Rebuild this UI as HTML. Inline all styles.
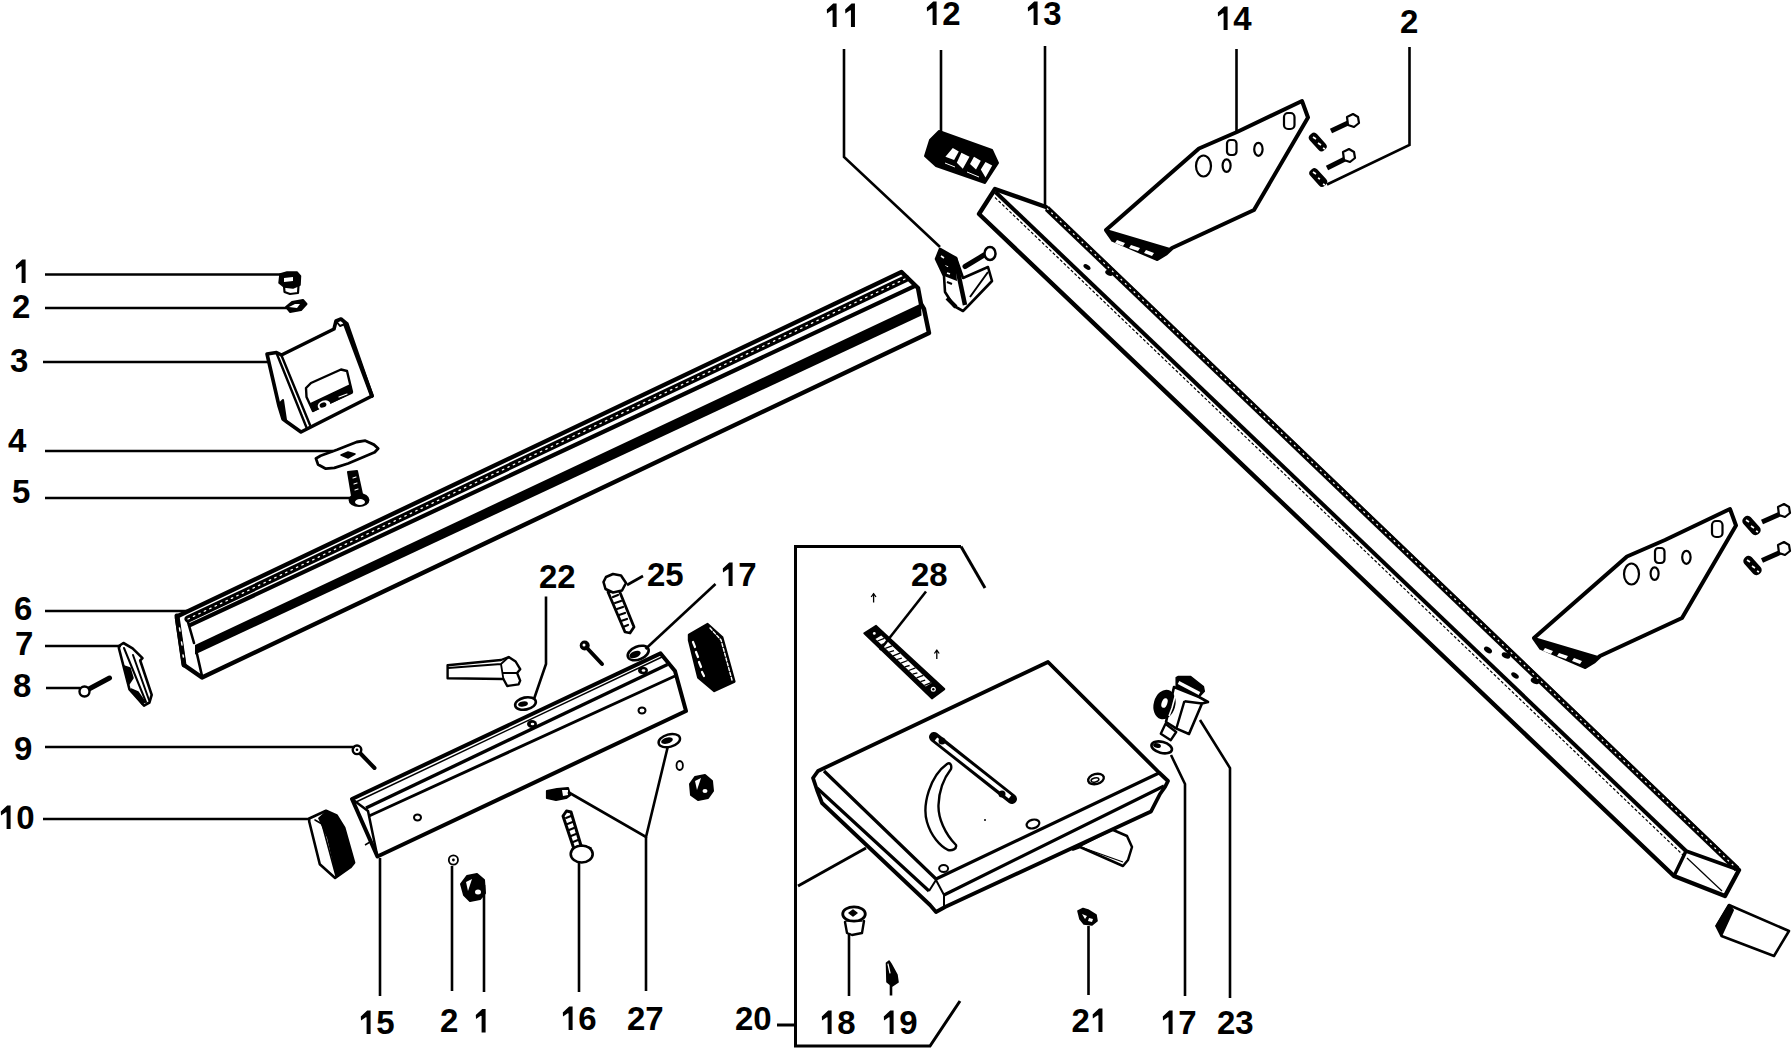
<!DOCTYPE html>
<html><head><meta charset="utf-8"><style>
html,body{margin:0;padding:0;background:#fff;width:1792px;height:1048px;overflow:hidden}
svg{display:block}
text{font-family:"Liberation Sans",sans-serif;font-weight:bold;font-size:33px;fill:#000}
</style></head><body>
<svg width="1792" height="1048" viewBox="0 0 1792 1048">
<rect width="1792" height="1048" fill="#fff"/>
<!-- RAIL 6 -->
<g id="rail" stroke="#000" fill="none" stroke-linejoin="round" stroke-linecap="round">
<path d="M178,616 L901.5,272 L918,288 L921,304 L924,309 L929,333 L202,677.5 L184,665 L177,618 Z" fill="#fff" stroke-width="4.4"/>
<line x1="188" y1="619" x2="906" y2="278.5" stroke-width="7"/>
<line x1="188" y1="619" x2="906" y2="278.5" stroke-width="1.3" stroke="#fff" stroke-dasharray="1.5 4.5"/>
<line x1="190" y1="625.2" x2="914" y2="286.4" stroke-width="4.2"/>
<path d="M195,645 L921,303.5 L921.5,315.5 L195,654.5 Z" fill="#000" stroke="none"/>
<path d="M188,622 L194,643 M197,654 L202,676" stroke-width="2.6"/>
<path d="M177,616 L184,665" stroke-width="5"/>
<path d="M179.5,628 l0.5,3 M181.5,642 l0.5,3 M183,655 l0.4,2" stroke="#fff" stroke-width="1.5"/>
</g>
<!-- TUBE 13 -->
<g id="tube" stroke="#000" fill="none" stroke-linejoin="round">
<path d="M979,214 L995,189 L1046,207 L1739,870 L1725,896 L1674,876 Z" fill="#fff" stroke-width="4.4"/>
<line x1="1047" y1="208.5" x2="1737" y2="869" stroke-width="6"/>
<line x1="1047" y1="208.5" x2="1737" y2="869" stroke-width="1.2" stroke="#fff" stroke-dasharray="2 4"/>
<line x1="995.5" y1="192" x2="1686" y2="851" stroke-width="4"/>
<line x1="995" y1="197.5" x2="1683" y2="855" stroke-width="1.2" stroke-dasharray="3 2"/>
<path d="M1674,876 L1686,851 L1739,870" stroke-width="3.5"/>
<path d="M1687,858 L1722,891" stroke-width="1.2"/>
<g fill="#000" stroke="none">
<ellipse cx="1488" cy="650" rx="4.5" ry="2.6" transform="rotate(35 1488 650)"/>
<ellipse cx="1515" cy="675.5" rx="4.3" ry="2.3" transform="rotate(35 1515 675.5)"/>
<ellipse cx="1506" cy="655.5" rx="4.5" ry="2.8" transform="rotate(25 1506 655.5)"/>
<ellipse cx="1535" cy="681" rx="4.5" ry="2.8" transform="rotate(25 1535 681)"/>
<ellipse cx="1087" cy="267" rx="4" ry="2.2" transform="rotate(35 1087 267)"/>
<ellipse cx="1109" cy="273" rx="4" ry="2.5" transform="rotate(25 1109 273)"/>
</g>
</g>
<!-- PART 14 upper + lower -->
<defs>
<g id="p14" stroke="#000" stroke-linejoin="round">
<path d="M1106,230 L1199,148.5 L1237,132 L1302,101 L1308,117.5 L1254,210 L1172,248 L1166,253.5 L1157,259 L1113,240 Z" fill="#fff" stroke-width="4"/>
<path d="M1106,230 L1170,249 L1157,259 L1113,240 Z" fill="#000" stroke-width="2"/>
<path d="M1117,240 l8,3 l-2,3 l-8,-3 Z M1131,245 l9,3 l-2,3 l-9,-3 Z M1146,250 l8,3 l-2,3 l-8,-3 Z" fill="#fff" stroke="none"/>
<g fill="none" stroke-width="2.2">
<ellipse cx="1203.5" cy="166" rx="7.5" ry="10.5"/>
<ellipse cx="1226.6" cy="165.6" rx="4" ry="6.3"/>
<rect x="1227" y="140" width="9.5" height="15" rx="3.5"/>
<ellipse cx="1258.4" cy="149.3" rx="4.2" ry="6.5"/>
<rect x="1284" y="113" width="10.5" height="16" rx="4"/>
</g>
</g>
</defs>
<use href="#p14"/>
<use href="#p14" transform="translate(428,408)"/>
<!-- bolts part 2 upper -->
<g stroke="#000" stroke-linejoin="round">
<line x1="1331" y1="131" x2="1348" y2="123" stroke-width="5"/>
<path d="M1347,117 l6,-3 l5,3 l1,6 l-5,4 l-6,-2 Z" fill="#fff" stroke-width="2.2"/>
<line x1="1327" y1="168" x2="1345" y2="159" stroke-width="5"/>
<path d="M1343,152 l6,-3 l5,3 l1,6 l-5,4 l-6,-2 Z" fill="#fff" stroke-width="2.2"/>
<rect x="1313" y="131.5" width="9.5" height="21" rx="4" transform="rotate(-42 1317.8 142)" fill="#000" stroke="none"/>
<path d="M1313,137 l3,2 M1318,143 l3,2 M1323,148 l2,1" stroke="#fff" stroke-width="1.6"/>
<rect x="1313.5" y="167" width="9.5" height="21" rx="4" transform="rotate(-42 1318.2 177.5)" fill="#000" stroke="none"/>
<path d="M1313,172 l3,2 M1318,178 l2,1 M1323,184 l2,1" stroke="#fff" stroke-width="1.6"/>
<!-- lower bolts -->
<line x1="1762" y1="522" x2="1780" y2="514" stroke-width="5"/>
<path d="M1778,507 l6,-3 l5,3 l1,6 l-5,4 l-6,-2 Z" fill="#fff" stroke-width="2.2"/>
<line x1="1762" y1="560.5" x2="1780" y2="552.5" stroke-width="5"/>
<path d="M1778,545 l6,-3 l5,3 l1,6 l-5,4 l-6,-2 Z" fill="#fff" stroke-width="2.2"/>
<rect x="1746.5" y="514.5" width="10" height="22" rx="4.5" transform="rotate(-42 1751.5 525.5)" fill="#000" stroke="none"/>
<path d="M1746,520 l3,2 M1751,526 l3,2 M1756,531 l2,1" stroke="#fff" stroke-width="1.6"/>
<rect x="1747.5" y="554.5" width="10" height="22" rx="4.5" transform="rotate(-42 1752.5 565.5)" fill="#000" stroke="none"/>
<path d="M1747,560 l3,2 M1752,566 l3,2 M1757,571 l2,1" stroke="#fff" stroke-width="1.6"/>
</g>
<!-- PART 12 block -->
<g stroke="#000" stroke-linejoin="round">
<path d="M939,131 L992,150 L998,163 L985,183 L936,166 L925,156 L930,140 Z" fill="#000" stroke-width="2"/>
<path d="M945.4,156.7 L952.8,148 L958.8,151.4 L954.1,160.1 Z M956.8,162.8 L961.4,152.7 L969.5,156.7 L962.8,168.8 Z M970,164 L974,156.7 L980.8,160.7 L976,169.4 Z M980.8,169.4 L985.5,162 L992.2,165.4 L985.5,177.4 Z" fill="#fff" stroke="none"/>
<path d="M945,163 l10,4 M967,172 l12,5" stroke="#fff" stroke-width="1"/>
</g>
<!-- PART 11 bracket -->
<g stroke="#000" stroke-linejoin="round" fill="#fff">
<path d="M940,249 L936,259 L944,276 L945,292 L954,306 L963,311 L968,306 L992,281 L988,267 L963,278 L956,258 Z" stroke-width="2.6"/>
<path d="M940,249 L936,259 L944,276 L957,281 L955,258 Z" fill="#000" stroke="none"/>
<path d="M941,256 l3,2 M945,266 l3,1 M947,273 l3,1" stroke="#fff" stroke-width="1.6" fill="none"/>
<path d="M955,258 L965,305" stroke-width="4.5" fill="none"/>
<path d="M946,256 L952,262 M944,266 l5,3 M947,282 l5,2 M970,297 L988,272" stroke-width="2" fill="none"/>
<path d="M947,298 L956,307" stroke-width="4" fill="none"/>
<line x1="965" y1="266.5" x2="984" y2="255" stroke-width="5" stroke-linecap="round"/>
<ellipse cx="990" cy="253.5" rx="5.5" ry="6.5" stroke-width="2.5"/>
</g>
<!-- CHANNEL 15 -->
<g stroke="#000" stroke-linejoin="round" fill="none">
<path d="M352,799 L660.6,653.4 L675,671 L686,711 L377.4,856.5 Z" fill="#fff" stroke-width="4"/>
<path d="M356,802 L662,657" stroke-width="1.5"/>
<path d="M366,808 L667.5,664.5" stroke-width="3.4"/>
<path d="M369,816 L675,676" stroke-width="3"/>
<path d="M352,799 L368,811 L377.4,856.5" stroke-width="2.5"/>
<path d="M365,845 l5,-3 l4,4" stroke-width="1.5"/>
<ellipse cx="532" cy="724" rx="5" ry="4" fill="#000" stroke="none"/>
<ellipse cx="532.5" cy="724" rx="1.8" ry="1.2" fill="#fff" stroke="none"/>
<ellipse cx="643" cy="670.5" rx="5" ry="3.8" fill="#000" stroke="none"/>
<ellipse cx="643.5" cy="670.5" rx="1.8" ry="1.2" fill="#fff" stroke="none"/>
<ellipse cx="642" cy="710.5" rx="3.5" ry="3" stroke-width="2"/>
<ellipse cx="417.5" cy="817.5" rx="3.5" ry="3" stroke-width="2"/>
</g>
<!-- TABLE 20 -->
<g stroke="#000" stroke-linejoin="round" fill="none">
<path d="M1073,849.5 L1112,829.5 L1127,836 L1132,847 L1128,860 L1123,866 L1080,847 Z" fill="#fff" stroke-width="2.5"/>
<path d="M1081,847 L1123,862" stroke-width="1.2"/>
<path d="M818,771 L1048,662 L1159,772.5 L1168,781 L1165,787 L1160,794 L1151,811.5 L945,907 L936,912 L930,905 L822,803 L817,790 L813,778 Z" fill="#fff" stroke-width="3.8"/>
<path d="M824,771 L936,879 L1159,773" stroke-width="3.2"/>
<path d="M817,788 L929,891 M944,895 L1164,786" stroke-width="3.2"/>
<path d="M929,891 L936,880 L944,895 L944,907" stroke-width="2"/>
<path d="M947,764 C930,776 922,805 927,822 C931,836 940,846 948,850 C952,851 957,849 956,845 C945,834 938,818 938.5,805 C939,790 944,778 951,769 C952,765 950,762 947,764 Z" fill="#fff" stroke-width="2.4"/>
<path d="M934,737 L1012,799" stroke="#000" stroke-width="10" stroke-linecap="round"/>
<path d="M936,739 L1010,797" stroke="#fff" stroke-width="4"/>
<circle cx="942" cy="741" r="3.5" fill="#000" stroke="none"/>
<circle cx="1002" cy="794" r="3.5" fill="#000" stroke="none"/>
<ellipse cx="1096" cy="779" rx="8" ry="5" transform="rotate(-15 1096 779)" stroke-width="2.4"/>
<ellipse cx="1095" cy="780" rx="4" ry="2" transform="rotate(-15 1095 780)" stroke-width="1.5"/>
<ellipse cx="1033" cy="824" rx="6.5" ry="4.3" transform="rotate(-15 1033 824)" stroke-width="2.2"/>
<ellipse cx="943.6" cy="868.5" rx="4.5" ry="3.5" stroke-width="2"/>
<circle cx="985" cy="820" r="1" fill="#000" stroke="none"/>
</g>
<!-- STRIP 28 -->
<g stroke="#000" stroke-linejoin="round">
<path d="M864.3,633.3 L876.1,625.9 L944.3,689.1 L931.9,698.4 Z" fill="#000" stroke-width="2"/>
<path d="M875.5,639.1 L881.2,635.5 L931.5,683.0 L925.7,686.6 Z" fill="#fff" stroke="none"/>
<path d="M877.5,641.0 L884.3,638.4 M881.4,644.7 L886.2,643.3 M885.3,648.4 L892.1,645.8 M889.2,652.1 L894.0,650.7 M893.1,655.8 L899.9,653.1 M897.0,659.5 L901.8,658.1 M900.9,663.2 L907.7,660.5 M904.8,666.8 L909.6,665.5 M908.7,670.5 L915.5,667.9 M912.6,674.2 L917.4,672.9 M916.5,677.9 L923.3,675.3 M920.5,681.6 L925.2,680.2 M924.4,685.3 L931.1,682.6" stroke-width="1.3" fill="none"/>
<circle cx="933.3" cy="689.3" r="2.5" fill="#fff" stroke="none"/>
<circle cx="933.3" cy="689.3" r="1.2" fill="#000" stroke="none"/>
<circle cx="874.3" cy="633.4" r="1.4" fill="#fff" stroke="none"/>
<path d="M873.6,602.5 L873.6,594.5 M871.2,597 L873.6,593.5 L876,597" stroke-width="1.3" fill="none"/>
<path d="M936.8,659 L936.8,651 M934.4,653.5 L936.8,650 L939.2,653.5" stroke-width="1.3" fill="none"/>
</g>
<!-- PART 23 + washer 17 -->
<g stroke="#000" stroke-linejoin="round">
<path d="M1160.8,733.8 L1165.4,723.9 L1176.2,732 L1170.8,740.2 Z" fill="#fff" stroke-width="2.4"/>
<path d="M1174,687 L1199,697 L1208,702 L1202,703.5 L1189,734 L1176,728.4 L1166,722 Z" fill="#fff" stroke-width="2.6"/>
<path d="M1184.4,701.2 L1202,703.5 M1184.4,701.2 L1176.5,728" stroke-width="2.4" fill="none"/>
<ellipse cx="1164.5" cy="704.5" rx="10.8" ry="15" transform="rotate(15 1164.5 704.5)" fill="#000" stroke="none"/>
<ellipse cx="1164.5" cy="703" rx="2.8" ry="5" transform="rotate(20 1164.5 703)" fill="#fff" stroke="none"/>
<path d="M1176,693 L1172,708 L1169,716" stroke="#fff" stroke-width="1.6" fill="none"/>
<path d="M1176.2,677.7 L1178,676.5 L1190.7,676.5 L1203.4,686.7 L1204.3,691.3 L1198.9,697 L1176.2,686 Z" fill="#000" stroke-width="1.5"/>
<path d="M1178.5,682.5 L1199.5,693.5" stroke="#fff" stroke-width="3.2"/>
<ellipse cx="1161.7" cy="747.4" rx="10.5" ry="5.5" transform="rotate(15 1161.7 747.4)" fill="#fff" stroke-width="2.6"/>
<ellipse cx="1157" cy="745.5" rx="4" ry="2.3" transform="rotate(15 1157 745.5)" fill="#000" stroke="none"/>
</g>
<!-- END CAP bottom right -->
<g stroke="#000" stroke-linejoin="round">
<path d="M1716.5,926 L1729,905 L1789,931 L1774,956 L1721.5,936 Z" fill="#fff" stroke-width="2.6"/>
<path d="M1716.5,926 L1729,905 L1733,910 L1722,934 Z" fill="#000" stroke-width="2"/>
</g>
<!-- SMALL PARTS LEFT -->
<g stroke="#000" stroke-linejoin="round" stroke-linecap="round">
<!-- 1 nut -->
<path d="M284,286 L284.5,292 L290,294 L298,293 L298.5,286" fill="#fff" stroke-width="2.2"/>
<path d="M280,274 L287,272 L297,272 L300.5,276 L300,285 L293,288 L284,287 L279,283 Z" fill="#000" stroke-width="1.5"/>
<path d="M284,278 L293,277 L293,281 L284,282 Z" fill="#fff" stroke="none"/>
<!-- 2 washer -->
<path d="M286,307 L292,302 L303,300 L306.5,304 L301,310 L290,312 Z" fill="#000" stroke-width="2"/>
<path d="M289,307 L295,304 L300,304 L297,308 Z" fill="#fff" stroke="none"/>
<!-- 3 bracket -->
<path d="M267,354 L276.5,352.5 L281.5,355 L334,329 L336,321 L341,319 L347,324 L372,396 L301,432 L287,422 L283,419 L279,406 Z" fill="#fff" stroke-width="3.6"/>
<path d="M276.5,353 L306.5,427.5 M281.5,355.5 L310,425" stroke-width="2.4" fill="none"/>
<path d="M336,321 L340,326 L345,324" stroke-width="2" fill="none"/>
<path d="M345,324 L372,396" stroke-width="4" fill="none"/>
<path d="M279,404 L283,400 L286,420 Z" fill="#000" stroke-width="2"/>
<path d="M306.5,397 L306,388 L311,383 L341,369.5 L347,371 L352,392 L313,411 Z" fill="#fff" stroke-width="2.4"/>
<path d="M310,404 L350,385 L352,393 L313,411 Z" fill="#000" stroke-width="1.5"/>
<ellipse cx="324" cy="405" rx="6.5" ry="4.5" transform="rotate(-20 324 405)" fill="#fff" stroke="none"/>
<ellipse cx="323" cy="405" rx="3.5" ry="2.5" transform="rotate(-20 323 405)" fill="#000" stroke="none"/>
<path d="M339,397 L347,394" stroke="#fff" stroke-width="1.2"/>
<!-- 4 plate -->
<path d="M315.9,458.4 L320.6,455.8 L337,449.8 L356.7,442 L365.3,440.7 L373.9,444.6 L378.2,448.5 L374.7,452.3 L348.1,463.5 L334.4,467.8 L325.8,468.7 L318,464.4 Z" fill="#fff" stroke-width="2.8"/>
<path d="M341,455 L348,452 L355,454 L348,458 Z" fill="#000" stroke-width="1.5"/>
<!-- 5 screw -->
<path d="M348,472 L357,471 L362,494 L352,496 Z" fill="#000" stroke-width="2"/>
<path d="M353,478 l3,-1 M354,484 l3,-1 M355,490 l3,-1" stroke="#fff" stroke-width="1.2"/>
<ellipse cx="359" cy="500" rx="10.5" ry="7" fill="#000" stroke="none"/>
<ellipse cx="360" cy="502" rx="5" ry="3" fill="#fff" stroke="none"/>
<!-- 7 clip -->
<path d="M118.9,646 L123.4,643 L132.6,648.3 L142.5,658.2 L140.2,660.5 L151.7,694.9 L149.4,702.5 L144,705.6 L129.5,689.5 L118.9,648.3 Z" fill="#fff" stroke-width="2.6"/>
<path d="M124,648 L146,702 M133,655 L149,700" stroke-width="2" fill="none"/>
<path d="M124,666 L130,668 L133,678 L129,684 Z M131,689 L138,692 L145,702 L142,704 Z" fill="#000" stroke-width="1.5"/>
<!-- 8 screw -->
<line x1="88" y1="689.5" x2="109.5" y2="678" stroke-width="5"/>
<circle cx="84.5" cy="691.5" r="5" fill="#fff" stroke-width="2.4"/>
<!-- 9 screw -->
<line x1="360" y1="753" x2="374.5" y2="768" stroke-width="4"/>
<circle cx="357" cy="749.8" r="4.3" fill="#fff" stroke-width="2.4"/>
<circle cx="357" cy="749.8" r="1.3" fill="#000" stroke="none"/>
<!-- 10 end cap -->
<path d="M309.2,818.5 L326,810.8 L336.6,815.4 L344.2,827.6 L354.1,862.7 L350.3,867.3 L335.1,878 L319.8,864.2 L309.2,821.5 Z" fill="#fff" stroke-width="2.6"/>
<path d="M318,818 L326,810.8 L336.6,815.4 L344.2,827.6 L354.1,862.7 L350.3,867.3 L336,877 L327,838 Z" fill="#000" stroke="none"/>
<path d="M315,820 L322,824 L336,876" stroke="#000" stroke-width="1.6" fill="none"/>
</g>
<!-- SMALL PARTS MIDDLE -->
<g stroke="#000" stroke-linejoin="round" stroke-linecap="round">
<!-- lever -->
<path d="M447.6,665.3 L501,660 L508.7,657 L515.6,661.5 L520.2,669.2 L517.1,673 L520.2,680.6 L518.6,684.4 L507.2,686 L503.4,679 L447.6,678.3 Z" fill="#fff" stroke-width="2.4"/>
<path d="M448,668 L501,664 L508.7,657 M501,664 L503.4,679 M503.4,673 L517.1,673" stroke-width="1.8" fill="none"/>
<!-- washer 22 -->
<ellipse cx="525.5" cy="703.5" rx="10.5" ry="6" transform="rotate(-12 525.5 703.5)" fill="#fff" stroke-width="2.6"/>
<ellipse cx="523" cy="704" rx="5" ry="2.6" transform="rotate(-12 523 704)" fill="#000" stroke="none"/>
<!-- bolt 25 -->
<path d="M608,592 L619,590 L634,627 L630,633 L625,632 Z" fill="#fff" stroke-width="2.8"/>
<path d="M613,597 l5,-2 M615,603 l6,-2 M617,609 l6,-2 M619,615 l6,-2 M621,621 l6,-2 M623,627 l5,-2" stroke-width="2.2" fill="none"/>
<path d="M606,577 L613,574 L621,575.5 L626,583 L622,590.5 L613,592.5 L605.5,589 L603.5,582 Z" fill="#fff" stroke-width="2.6"/>
<!-- small screw -->
<line x1="587" y1="648" x2="602" y2="664" stroke-width="4"/>
<circle cx="584.7" cy="645.5" r="5" fill="#000" stroke="none"/>
<circle cx="584" cy="645" r="1.5" fill="#fff" stroke="none"/>
<!-- washer 17 upper -->
<ellipse cx="638.2" cy="653" rx="11" ry="6.5" transform="rotate(-22 638.2 653)" fill="#fff" stroke-width="2.6"/>
<ellipse cx="635" cy="654.5" rx="6" ry="3.2" transform="rotate(-22 635 654.5)" fill="#000" stroke="none"/>
<!-- end cap dark -->
<path d="M689,634.8 L707.6,624.1 L722.3,637.5 L734.4,681.6 L714.3,691 L698.3,677.6 L689,640.2 Z" fill="#000" stroke-width="2.4"/>
<path d="M693,642 l2,5 M696,652 l2,5 M699,662 l2,5 M702,672 l2,4" stroke="#fff" stroke-width="2.2"/>
<path d="M710,628 L721,640 L732,680" stroke="#fff" stroke-width="1.4" fill="none" stroke-dasharray="3 2"/>
<!-- washers 27 -->
<path d="M547,791 L557,789 L568,788 L570,795 L566,798 L556,800 L547,798 Z" fill="#000" stroke-width="2.2"/>
<path d="M562,790 L568,790 L568,795 L563,796 Z" fill="#fff" stroke="none"/>
<ellipse cx="669.3" cy="740.6" rx="11" ry="6.2" transform="rotate(-15 669.3 740.6)" fill="#fff" stroke-width="2.4"/>
<ellipse cx="667" cy="740.6" rx="6" ry="3" transform="rotate(-15 667 740.6)" fill="#000" stroke="none"/>
<ellipse cx="679.7" cy="765.5" rx="3.2" ry="4.5" fill="none" stroke-width="1.8"/>
<!-- nut right -->
<path d="M690,784 L695,777 L705,775 L712,781 L713,791 L708,798 L698,800 L691,795 Z" fill="#000" stroke-width="2"/>
<path d="M695,781 L701,778 L697,790 Z" fill="#fff" stroke="none"/>
<ellipse cx="705" cy="791" rx="2.5" ry="2" fill="#fff" stroke="none"/>
<!-- bolt 16 -->
<path d="M563,816 L566.5,811 L571,812 L582,849 L575,852 Z" fill="#fff" stroke-width="3"/>
<path d="M566,818 l5,-2 M567.5,824 l5,-2 M569,830 l5,-2 M571,836 l5,-2 M573,842 l5,-2" stroke-width="2" fill="none"/>
<ellipse cx="581.7" cy="854" rx="11" ry="8.5" fill="#fff" stroke-width="2.6"/>
<path d="M572,849 C575,846 586,845 591,848" stroke-width="1.6" fill="none"/>
<!-- washer 2 bottom -->
<circle cx="453.4" cy="860" r="4.6" fill="#fff" stroke-width="1.8"/>
<circle cx="453.4" cy="860" r="1.4" fill="#000" stroke="none"/>
<!-- nut 1 bottom -->
<path d="M461,884 L467,876 L477,874 L484,880 L485,893 L480,899 L470,901 L464,895 Z" fill="#000" stroke-width="2"/>
<path d="M466,882 L472,879 L468,891 Z" fill="#fff" stroke="none"/>
<ellipse cx="478" cy="892" rx="3" ry="2.5" fill="#fff" stroke="none"/>
<!-- 18 knob -->
<path d="M845,922 L847,933 L852,935 L862,933 L864,921" fill="#fff" stroke-width="2.4"/>
<ellipse cx="854" cy="914" rx="11.3" ry="7.2" fill="#fff" stroke-width="2.8"/>
<path d="M849,913 l4,-3 l4,3 l-4,3 Z" fill="#000" stroke-width="1.5"/>
<path d="M846,921 L862,921" stroke-width="1.5"/>
<!-- 19 screw -->
<path d="M886.5,963 L889,961 L891,964 L897,975 L898,982 L892,986 L887,982 Z" fill="#000" stroke-width="1.6"/>
<path d="M888,964 L890,973" stroke="#fff" stroke-width="1.2"/>
<!-- 21 nut -->
<path d="M1078,911 L1083,908.5 L1088,910 L1096,915 L1097,921 L1092,925 L1084,924 L1080,919 Z" fill="#000" stroke-width="1.6"/>
<path d="M1082,914 l5,2 l-2,3 Z M1089,918 l4,1 l-1,3 l-4,-1 Z" fill="#fff" stroke="none"/>
</g>
<!-- LABELS -->
<defs><path id="one" d="M9.2,-23.6 L2.8,-17.6 L3,-13.6 L7.8,-16.8 L8.6,-16.6 L8.6,0 L12.6,0 L12.6,-23.6 Z" fill="#000"/></defs>
<g id="labels">
<use href="#one" x="13.00" y="283.00"/>
<text x="12.00" y="318.00">2</text>
<text x="10.00" y="372.00">3</text>
<text x="8.00" y="452.00">4</text>
<text x="12.00" y="503.00">5</text>
<text x="14.00" y="620.00">6</text>
<text x="15.00" y="655.00">7</text>
<text x="13.00" y="697.00">8</text>
<text x="14.00" y="760.00">9</text>
<use href="#one" x="-2.00" y="829.00"/>
<text x="16.35" y="829.00">0</text>
<use href="#one" x="824.00" y="27.00"/>
<use href="#one" x="842.35" y="27.00"/>
<use href="#one" x="924.00" y="25.00"/>
<text x="942.35" y="25.00">2</text>
<use href="#one" x="1025.00" y="25.00"/>
<text x="1043.35" y="25.00">3</text>
<use href="#one" x="1215.00" y="30.00"/>
<text x="1233.35" y="30.00">4</text>
<text x="1400.00" y="33.00">2</text>
<text x="539.00" y="588.00">2</text>
<text x="557.35" y="588.00">2</text>
<text x="647.00" y="586.00">2</text>
<text x="665.35" y="586.00">5</text>
<use href="#one" x="720.00" y="586.00"/>
<text x="738.35" y="586.00">7</text>
<text x="911.00" y="586.00">2</text>
<text x="929.35" y="586.00">8</text>
<use href="#one" x="358.00" y="1034.00"/>
<text x="376.35" y="1034.00">5</text>
<text x="440.00" y="1032.00">2</text>
<use href="#one" x="473.00" y="1032.50"/>
<use href="#one" x="560.00" y="1030.00"/>
<text x="578.35" y="1030.00">6</text>
<text x="627.00" y="1030.00">2</text>
<text x="645.35" y="1030.00">7</text>
<text x="735.00" y="1030.00">2</text>
<text x="753.35" y="1030.00">0</text>
<use href="#one" x="819.00" y="1034.00"/>
<text x="837.35" y="1034.00">8</text>
<use href="#one" x="881.00" y="1034.00"/>
<text x="899.35" y="1034.00">9</text>
<text x="1071.50" y="1032.00">2</text>
<use href="#one" x="1089.85" y="1032.00"/>
<use href="#one" x="1160.00" y="1034.00"/>
<text x="1178.35" y="1034.00">7</text>
<text x="1217.00" y="1034.00">2</text>
<text x="1235.35" y="1034.00">3</text>
</g>
<!-- LEADERS -->
<g id="leaders" stroke="#000" stroke-width="2.6" fill="none" stroke-linecap="butt" stroke-linejoin="miter">
<line x1="45" y1="274.5" x2="287" y2="274.5"/>
<line x1="45" y1="308" x2="287" y2="308"/>
<line x1="43" y1="362" x2="268" y2="362"/>
<line x1="45" y1="451" x2="333" y2="451"/>
<line x1="45" y1="498" x2="351" y2="498"/>
<line x1="45" y1="611" x2="188" y2="611"/>
<line x1="45" y1="646" x2="121" y2="646"/>
<line x1="46" y1="688" x2="80" y2="688"/>
<line x1="45" y1="747" x2="355" y2="747"/>
<line x1="43" y1="819" x2="310" y2="819"/>
<polyline points="844,49 844,157 940,247"/>
<line x1="941" y1="50" x2="941" y2="133"/>
<line x1="1045" y1="46" x2="1045" y2="207"/>
<line x1="1236.5" y1="49" x2="1236.5" y2="132"/>
<polyline points="1409.5,47 1409.5,145 1327,184.5"/>
<polyline points="546,596.5 546,664 534,699"/>
<line x1="627" y1="585" x2="643" y2="576"/>
<line x1="715.5" y1="584" x2="645.5" y2="649"/>
<line x1="926" y1="591.5" x2="880" y2="650"/>
<line x1="380" y1="858" x2="380" y2="996"/>
<line x1="452" y1="866" x2="452" y2="991"/>
<line x1="484" y1="885" x2="484" y2="992"/>
<line x1="579" y1="862" x2="579" y2="992"/>
<polyline points="568,792 646,837 667.6,747.5"/>
<line x1="646" y1="837" x2="646" y2="991"/>
<line x1="849" y1="933" x2="849" y2="996"/>
<line x1="891" y1="985" x2="891" y2="995.5"/>
<line x1="1088.5" y1="926" x2="1088.5" y2="995"/>
<polyline points="1171,755 1185,784 1185,996"/>
<polyline points="1200,720 1230,768 1230,998"/>
</g>
<!-- BOX 20 -->
<g stroke="#000" stroke-width="3" fill="none">
<polyline points="961,546.5 795.5,546.5 795.5,1046 930,1046 960,1001"/>
<line x1="961" y1="546.5" x2="985" y2="588"/>
<line x1="777" y1="1025" x2="795.5" y2="1025"/>
<line x1="798" y1="886" x2="866" y2="848"/>
</g>
</svg>
</body></html>
